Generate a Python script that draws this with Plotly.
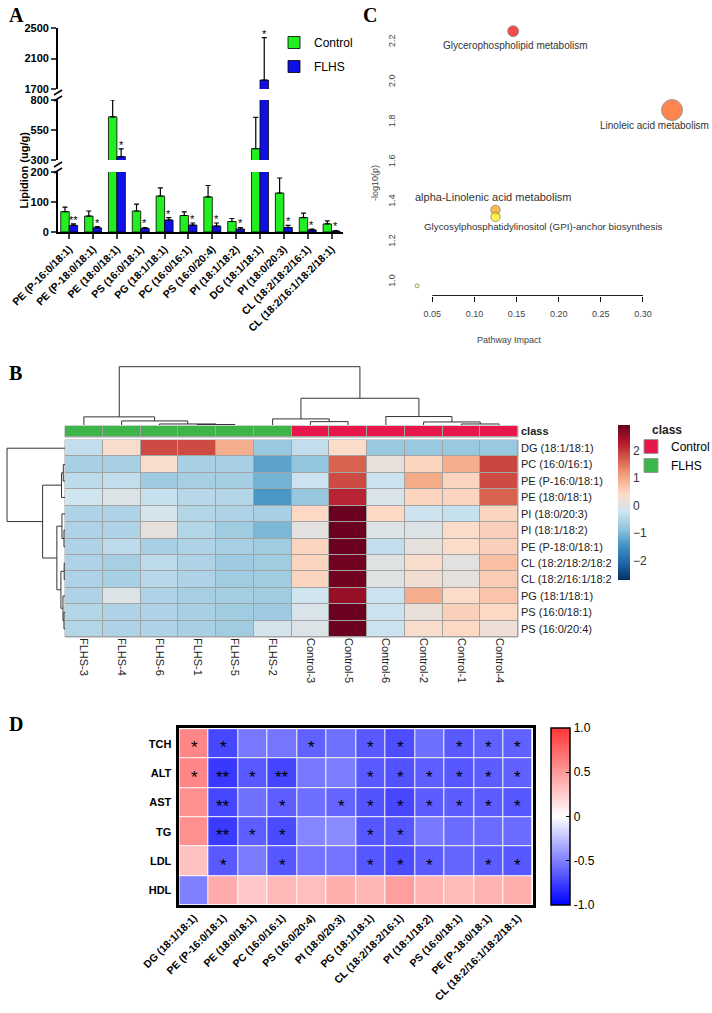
import plotly.graph_objects as go

W, H = 712, 1013
SANS = "Liberation Sans, Arial, sans-serif"
SERIF = "Liberation Serif, Times New Roman, serif"

# ---------------- Panel A data (ug/g)
lipids_a = ["PE (P-16:0/18:1)", "PE (P-18:0/18:1)", "PE (18:0/18:1)", "PS (16:0/18:1)",
            "PG (18:1/18:1)", "PC (16:0/16:1)", "PS (16:0/20:4)", "PI (18:1/18:2)",
            "DG (18:1/18:1)", "PI (18:0/20:3)", "CL (18:2/18:2/16:1)", "CL (18:2/16:1/18:2/18:1)"]
control_mean = [68, 53, 660, 70, 120, 55, 117, 35, 395, 130, 48, 27]
control_err = [15, 17, 140, 23, 27, 12, 38, 10, 260, 50, 15, 10]
flhs_mean = [22, 14, 328, 12, 40, 23, 20, 10, 1818, 15, 7, 3]
flhs_err = [5, 4, 64, 3, 8, 7, 10, 5, 555, 7, 3, 2]
flhs_sig = ["**", "*", "*", "*", "*", "*", "*", "*", "*", "*", "*", "*"]

# ---------------- Panel C data
pathways = ["Glycerophospholipid metabolism", "Linoleic acid metabolism",
            "alpha-Linolenic acid metabolism",
            "Glycosylphosphatidylinositol (GPI)-anchor biosynthesis", ""]
impact = [0.146, 0.3345, 0.125, 0.125, 0.032]
neglogp = [2.255, 1.86, 1.36, 1.325, 0.98]

# ---------------- Panel B data (row z-scores)
samples = ["FLHS-3", "FLHS-4", "FLHS-6", "FLHS-1", "FLHS-5", "FLHS-2",
           "Control-3", "Control-5", "Control-6", "Control-2", "Control-1", "Control-4"]
sample_class = ["FLHS"] * 6 + ["Control"] * 6
rows_b = ["DG (18:1/18:1)", "PC (16:0/16:1)", "PE (P-16:0/18:1)", "PE (18:0/18:1)",
          "PI (18:0/20:3)", "PI (18:1/18:2)", "PE (P-18:0/18:1)", "CL (18:2/18:2/18:2",
          "CL (18:2/16:1/18:2", "PG (18:1/18:1)", "PS (16:0/18:1)", "PS (16:0/20:4)"]
z_b = [
    [-0.35, 0.35, 1.85, 1.85, 0.95, -0.75, -0.35, 0.4, -0.75, -0.75, -0.75, -0.75],
    [-0.6, -0.6, 0.35, -0.6, -0.6, -1.25, -0.82, 1.65, 0.15, 0.5, 0.95, 1.9],
    [-0.4, -0.35, -0.7, -0.62, -0.65, -1.05, -0.25, 1.85, -0.25, 1.0, 0.5, 1.85],
    [-0.2, -0.05, -0.3, -0.45, -0.5, -1.4, -0.78, 2.2, -0.1, 0.5, 0.5, 1.65],
    [-0.55, -0.55, -0.15, -0.5, -0.55, -0.6, 0.45, 2.9, 0.45, -0.25, -0.3, 0.5],
    [-0.55, -0.55, 0.1, -0.5, -0.68, -1.0, 0.05, 2.9, -0.05, -0.05, 0.4, 0.55],
    [-0.55, -0.4, -0.6, -0.55, -0.6, -0.68, 0.5, 2.9, -0.35, 0.1, 0.4, 0.55],
    [-0.55, -0.62, -0.4, -0.55, -0.7, -0.68, 0.5, 2.85, 0.0, 0.35, 0.05, 0.75],
    [-0.55, -0.6, -0.45, -0.55, -0.68, -0.68, 0.5, 2.85, 0.0, 0.25, 0.1, 0.6],
    [-0.55, -0.05, -0.55, -0.62, -0.65, -0.68, -0.2, 2.55, -0.25, 0.95, 0.4, 0.7],
    [-0.5, -0.55, -0.55, -0.6, -0.68, -0.7, -0.1, 2.9, -0.25, 0.15, 0.55, 0.45],
    [-0.5, -0.55, -0.55, -0.6, -0.68, -0.15, -0.05, 2.9, -0.25, 0.35, 0.45, 0.2],
]
# hclust-style merges: (a, b, height); "cK" = K-th merge
col_merges = [
    ("FLHS-1", "FLHS-5", 0.5), ("FLHS-6", "c0", 1.0), ("FLHS-4", "c1", 4.0),
    ("FLHS-3", "c2", 8.0), ("Control-1", "Control-4", 1.0), ("Control-2", "c4", 3.0),
    ("Control-6", "c5", 8.3), ("Control-3", "Control-5", 3.3), ("FLHS-2", "c7", 6.0),
    ("c8", "c6", 26.3), ("c3", "c9", 57.3),
]
row_merges = [
    ("PC (16:0/16:1)", "PE (P-16:0/18:1)", 1.7), ("c0", "PE (18:0/18:1)", 3.4),
    ("PI (18:1/18:2)", "PE (P-18:0/18:1)", 1.0), ("PI (18:0/20:3)", "c2", 3.0),
    ("CL (18:2/18:2/18:2", "CL (18:2/16:1/18:2", 0.8),
    ("PS (16:0/18:1)", "PS (16:0/20:4)", 1.0), ("PG (18:1/18:1)", "c5", 2.0),
    ("c4", "c6", 4.0), ("c3", "c7", 8.0), ("c1", "c8", 22.0), ("DG (18:1/18:1)", "c9", 57.0),
]

# ---------------- Panel D data (correlation r)
markers_d = ["TCH", "ALT", "AST", "TG", "LDL", "HDL"]
lipids_d = ["DG (18:1/18:1)", "PE (P-16:0/18:1)", "PE (18:0/18:1)", "PC (16:0/16:1)",
            "PS (16:0/20:4)", "PI (18:0/20:3)", "PG (18:1/18:1)", "CL (18:2/18:2/16:1)",
            "PI (18:1/18:2)", "PS (16:0/18:1)", "PE (P-18:0/18:1)", "CL (18:2/16:1/18:2/18:1)"]
r_d = [
    [0.6, -0.72, -0.53, -0.54, -0.62, -0.56, -0.65, -0.7, -0.57, -0.65, -0.62, -0.62],
    [0.6, -0.78, -0.65, -0.73, -0.53, -0.51, -0.65, -0.68, -0.63, -0.66, -0.64, -0.62],
    [0.55, -0.72, -0.56, -0.63, -0.57, -0.6, -0.67, -0.72, -0.64, -0.64, -0.64, -0.66],
    [0.55, -0.77, -0.63, -0.71, -0.48, -0.46, -0.66, -0.66, -0.53, -0.58, -0.58, -0.58],
    [0.3, -0.65, -0.52, -0.66, -0.55, -0.55, -0.66, -0.7, -0.64, -0.6, -0.64, -0.66],
    [-0.5, 0.42, 0.27, 0.35, 0.32, 0.4, 0.36, 0.48, 0.38, 0.34, 0.38, 0.4],
]
sig_d = [
    ["*", "*", "", "", "*", "", "*", "*", "", "*", "*", "*"],
    ["*", "**", "*", "**", "", "", "*", "*", "*", "*", "*", "*"],
    ["", "**", "", "*", "", "*", "*", "*", "*", "*", "*", "*"],
    ["", "**", "*", "*", "", "", "*", "*", "", "", "", ""],
    ["", "*", "", "*", "", "", "*", "*", "*", "", "*", "*"],
    [""] * 12,
]


def xd(a, b):
    return [a / W, b / W]


def yd(top, bottom):
    return [1 - bottom / H, 1 - top / H]


def dendro(merges, leaves):
    pos = {n: i for i, n in enumerate(leaves)}
    hgt = {n: 0.0 for n in leaves}
    p, h = [], []
    for k, (a, b, height) in enumerate(merges):
        p += [pos[a], pos[a], pos[b], pos[b], None]
        h += [hgt[a], height, height, hgt[b], None]
        pos["c%d" % k] = (pos[a] + pos[b]) / 2
        hgt["c%d" % k] = height
    return p, h


fig = go.Figure()

# ---------------- A: bars on a broken y axis (three stacked y axes)
GREEN, BLUE = "#22ee22", "#1010e6"
BARGAP = 0.29
xs = list(range(len(lipids_a)))
for yname in ["y", "y2", "y3"]:
    for name, mean, err, col in [("Control", control_mean, control_err, GREEN),
                                 ("FLHS", flhs_mean, flhs_err, BLUE)]:
        fig.add_trace(go.Bar(
            x=xs, y=mean, name=name, xaxis="x", yaxis=yname, legendgroup=name,
            showlegend=(yname == "y"), marker=dict(color=col, line=dict(color="black", width=0.8)),
            error_y=dict(type="data", symmetric=False, array=err, arrayminus=[0] * len(err),
                         color="black", thickness=1.2, width=2.5),
            hoverinfo="skip"))

off = (1 - BARGAP) / 4
for i, s in enumerate(flhs_sig):
    top = flhs_mean[i] + flhs_err[i]
    yref = "y" if top <= 200 else ("y2" if top <= 800 else "y3")
    fig.add_annotation(x=i + off, y=top, xref="x", yref=yref, text=s, showarrow=False,
                       yanchor="bottom", yshift=-4, font=dict(size=11, color="black"))

# ---------------- C: pathway impact bubbles
c_colors = ["#ee0000", "#ff5208", "#f8a400", "#ffee00", "#ffff88"]
c_sizes = [11, 21, 9.5, 9.5, 4]
fig.add_trace(go.Scatter(
    x=impact, y=neglogp, xaxis="x4", yaxis="y4", mode="markers", cliponaxis=False,
    marker=dict(color=c_colors, size=c_sizes, line=dict(color="#555", width=0.8)),
    showlegend=False, hoverinfo="skip"))
lab_shift = [(2, -14, 10), (-18, -15, 10), (-2, 13, 11), (48, -10, 9.8), (0, 0, 9)]
for i, txt in enumerate(pathways):
    if not txt:
        continue
    sx, sy, fs = lab_shift[i]
    fig.add_annotation(x=impact[i], y=neglogp[i], xref="x4", yref="y4", text=txt,
                       showarrow=False, xshift=sx, yshift=sy,
                       font=dict(size=fs, color="#333", family=SANS))
# R-style axis line spanning only the tick range
fig.add_shape(type="line", xref="x4", yref="paper", x0=0.05, x1=0.30,
              y0=1 - 295.5 / H, y1=1 - 295.5 / H, line=dict(color="#222", width=1))

# ---------------- B: clustered heatmap
rdbu = ["#053061", "#2166ac", "#4393c3", "#92c5de", "#d1e5f0",
        "#fddbc7", "#f4a582", "#d6604d", "#b2182b", "#67001f"]
fig.add_trace(go.Heatmap(
    z=z_b, x=samples, y=rows_b, xaxis="x5", yaxis="y5", xgap=1, ygap=1,
    colorscale=[[i / 9, c] for i, c in enumerate(rdbu)], zmin=-2.7, zmax=2.93,
    colorbar=dict(x=618 / W, xanchor="left", xpad=0, y=1 - 425 / H, yanchor="top", ypad=0,
                  len=155 / H, thickness=12, outlinewidth=0, tickvals=[-2, -1, 0, 1, 2],
                  tickfont=dict(size=12, color="#333")),
    hoverinfo="skip"))
class_code = [1 if c == "FLHS" else 0 for c in sample_class]
fig.add_trace(go.Heatmap(
    z=[class_code], x=samples, y=["class"], xaxis="x6", yaxis="y6", xgap=1, ygap=1,
    colorscale=[[0, "#e8174b"], [0.5, "#e8174b"], [0.5, "#3cb54a"], [1, "#3cb54a"]],
    zmin=0, zmax=1, showscale=False, hoverinfo="skip"))
for name, col in [("Control", "#e8174b"), ("FLHS", "#3cb54a")]:
    fig.add_trace(go.Scatter(
        x=[None], y=[None], xaxis="x5", yaxis="y5", mode="markers", name=name, legend="legend2",
        marker=dict(symbol="square", size=14, color=col, line=dict(color="#999", width=1))))

cp, ch = dendro(col_merges, samples)
fig.add_trace(go.Scatter(x=cp, y=ch, xaxis="x8", yaxis="y8", mode="lines", cliponaxis=False,
                         line=dict(color="#333", width=1), showlegend=False, hoverinfo="skip"))
rp, rh = dendro(row_merges, rows_b)
fig.add_trace(go.Scatter(x=rh, y=rp, xaxis="x9", yaxis="y9", mode="lines", cliponaxis=False,
                         line=dict(color="#333", width=1), showlegend=False, hoverinfo="skip"))

# ---------------- D: correlation heatmap
fig.add_trace(go.Heatmap(
    z=r_d, x=lipids_d, y=markers_d, xaxis="x7", yaxis="y7", xgap=1, ygap=1,
    colorscale=[[0, "#0000ff"], [0.5, "#ffffff"], [1, "#ff3535"]], zmin=-1, zmax=1,
    colorbar=dict(x=551 / W, xanchor="left", xpad=0, y=1 - 728 / H, yanchor="top", ypad=0,
                  len=177 / H, thickness=19, outlinewidth=1.5, outlinecolor="black",
                  tickvals=[-1, -0.5, 0, 0.5, 1], ticktext=["-1.0", "-0.5", "0", "0.5", "1.0"],
                  ticks="inside", ticklen=4, tickcolor="black", tickfont=dict(size=12)),
    hoverinfo="skip"))
for r, row in enumerate(sig_d):
    for c, s in enumerate(row):
        if s:
            fig.add_annotation(x=c, y=r, xref="x7", yref="y7", text=s, showarrow=False,
                               yshift=-4, font=dict(size=17, color="black"))

# ---------------- axes
noax = dict(visible=False, showgrid=False, zeroline=False)
ya = dict(anchor="x", showline=True, linewidth=1.8, linecolor="black", ticks="outside",
          ticklen=5, tickwidth=1.5, showgrid=False, zeroline=False,
          tickfont=dict(size=11, weight="bold", color="black"))
fig.update_layout(
    width=W, height=H, margin=dict(l=0, r=0, t=0, b=0, autoexpand=False),
    paper_bgcolor="white", plot_bgcolor="white", template="none",
    font=dict(family=SANS, color="black"),
    barmode="group", bargap=BARGAP, bargroupgap=0,
    legend=dict(x=274 / W, y=1 - 28 / H, xanchor="left", yanchor="top", font=dict(size=12),
                tracegroupgap=5, bgcolor="rgba(0,0,0,0)"),
    legend2=dict(x=631 / W, y=1 - 432 / H, xanchor="left", yanchor="top", font=dict(size=12),
                 bgcolor="rgba(0,0,0,0)", tracegroupgap=0),
    xaxis=dict(domain=xd(58, 343), range=[-0.47, 11.48], anchor="y", tickvals=xs,
               ticktext=lipids_a, tickangle=-45, showline=True, linewidth=1.8, linecolor="black",
               ticks="outside", ticklen=5, tickwidth=1.5, showgrid=False, zeroline=False,
               tickfont=dict(size=10.5, weight="bold", color="black")),
    yaxis=dict(domain=yd(172, 232), range=[0, 200], tickvals=[0, 100, 200], **ya),
    yaxis2=dict(domain=yd(100, 160), range=[300, 800], tickvals=[300, 550, 800], **ya),
    yaxis3=dict(domain=yd(28, 89), range=[1700, 2500], tickvals=[1700, 2100, 2500], **ya),
    xaxis4=dict(domain=xd(407, 683), range=[0.02, 0.3475], anchor="y4",
                tickvals=[0.05, 0.10, 0.15, 0.20, 0.25, 0.30], tickformat=".2f",
                showline=False, ticks="outside", ticklen=5, tickwidth=1,
                tickcolor="black", ticklabelstandoff=4, showgrid=False, zeroline=False,
                tickfont=dict(size=9, color="#444")),
    yaxis4=dict(domain=yd(21, 296), range=[0.929, 2.306], anchor="x4",
                tickvals=[1.0, 1.2, 1.4, 1.6, 1.8, 2.0, 2.2], tickformat=".1f", tickangle=-90,
                showline=False, ticks="outside", ticklen=7, tickcolor="rgba(0,0,0,0)",
                showgrid=False, zeroline=False, tickfont=dict(size=9, color="#444")),
    xaxis5=dict(domain=xd(65, 518), anchor="y5", tickangle=90, ticks="", showgrid=False,
                zeroline=False, tickfont=dict(size=11, color="#222")),
    yaxis5=dict(domain=yd(440, 637), anchor="x5", side="right", autorange="reversed", ticks="",
                showgrid=False, zeroline=False, ticklabelstandoff=2,
                tickfont=dict(size=11, color="#222")),
    xaxis6=dict(domain=xd(65, 518), anchor="y6", **noax),
    yaxis6=dict(domain=yd(426, 437), anchor="x6", side="right", ticks="", showgrid=False,
                zeroline=False, ticklabelstandoff=2,
                tickfont=dict(size=11, weight="bold", color="#222")),
    xaxis8=dict(domain=xd(65, 518), range=[-0.5, 11.5], anchor="y8", **noax),
    yaxis8=dict(domain=yd(366, 425), range=[0, 58], anchor="x8", **noax),
    xaxis9=dict(domain=xd(6, 65), range=[58, 0], anchor="y9", **noax),
    yaxis9=dict(domain=yd(440, 637), range=[11.5, -0.5], anchor="x9", **noax),
    xaxis7=dict(domain=xd(179.3, 532.7), anchor="y7", tickangle=-45, ticks="",
                showline=True, mirror=True, linewidth=2.5, linecolor="black", showgrid=False,
                zeroline=False, tickfont=dict(size=10.5, weight="bold", color="black")),
    yaxis7=dict(domain=yd(728.3, 905), anchor="x7", autorange="reversed", ticks="",
                showline=True, mirror=True, linewidth=2.5, linecolor="black", showgrid=False,
                zeroline=False, ticklabelstandoff=3,
                tickfont=dict(size=11, weight="bold", color="black")),
)

# grey cell borders behind heatmap B and class bar
for xr, yr in [("x5", "y5"), ("x6", "y6")]:
    fig.add_shape(type="rect", xref=xr + " domain", yref=yr + " domain", x0=0, x1=1, y0=0, y1=1,
                  fillcolor="#a3a3a3", line=dict(color="#a3a3a3", width=1), layer="below")

# axis break marks for panel A
for yb in [93, 99, 165, 171]:
    fig.add_shape(type="line", xref="paper", yref="paper", x0=54 / W, x1=62 / W,
                  y0=1 - (yb + 2) / H, y1=1 - (yb - 3) / H, line=dict(color="black", width=1.5))

# axis titles and panel letters
fig.add_annotation(x=15 / W, y=1 - 130 / H, xref="paper", yref="paper", text="<b>Lipidion (ug/g)</b>",
                   textangle=-90, showarrow=False, font=dict(size=11, color="black"))
fig.add_annotation(x=375 / W, y=1 - 163 / H, xref="paper", yref="paper", text="-log10(p)",
                   textangle=-90, showarrow=False, font=dict(size=9, color="#444"))
fig.add_annotation(x=544 / W, y=1 - 333 / H, xref="paper", yref="paper", text="Pathway Impact",
                   showarrow=False, font=dict(size=9, color="#444"))
fig.add_annotation(x=650 / W, y=1 - 421 / H, xref="paper", yref="paper", text="<b>class</b>",
                   xanchor="left", yanchor="top", showarrow=False, font=dict(size=12, color="#222"))
for letter, lx, ly in [("A", 7, 2), ("C", 361, 2), ("B", 7, 360), ("D", 7, 711)]:
    fig.add_annotation(x=lx / W, y=1 - ly / H, xref="paper", yref="paper", text="<b>%s</b>" % letter,
                       xanchor="left", yanchor="top", showarrow=False,
                       font=dict(size=20, family=SERIF, color="black"))

fig.write_html("out.html", config={"displayModeBar": False},
               post_script="document.body.style.margin='0px';")
